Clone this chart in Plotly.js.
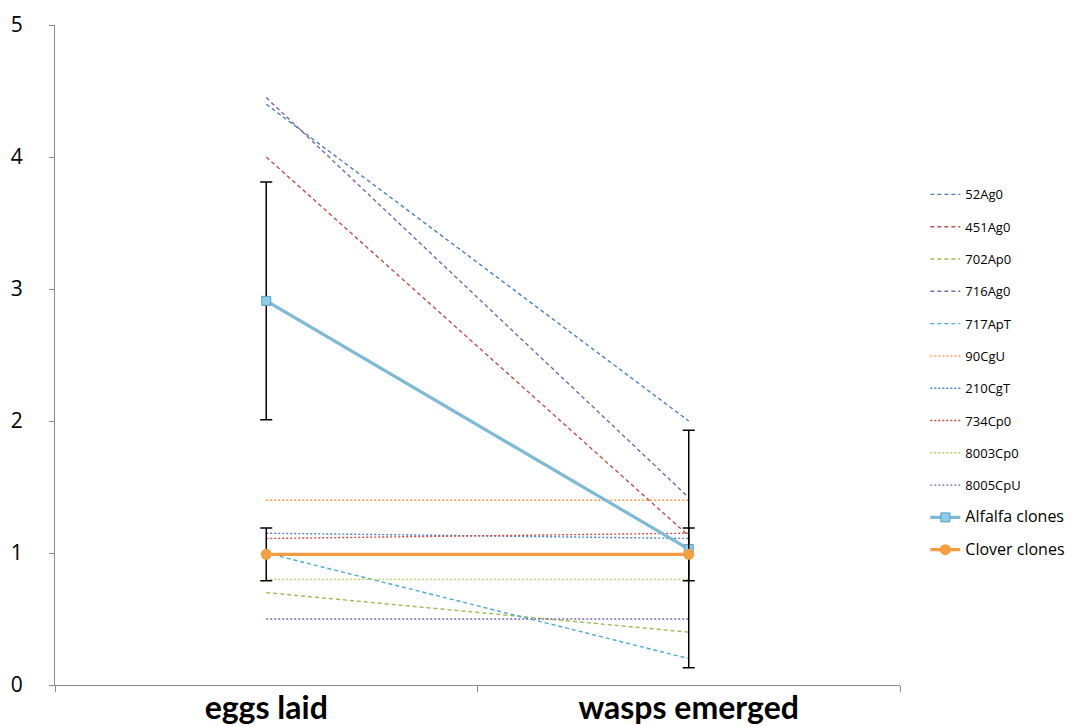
<!DOCTYPE html>
<html>
<head>
<meta charset="utf-8">
<script src="https://cdn.plot.ly/plotly-3.0.1.min.js"></script>
<style>html,body{margin:0;padding:0;background:#fff;}#chart{width:1082px;height:726px;}</style>
</head>
<body>
<div id="chart"></div>
<script>
// categories
const categories = ['eggs laid', 'wasps emerged'];

// individual clone series (values at eggs laid, wasps emerged)
const s52Ag0   = [4.40, 2.00];
const s451Ag0  = [4.00, 1.13];
const s702Ap0  = [0.70, 0.40];
const s716Ag0  = [4.45, 1.42];
const s717ApT  = [1.00, 0.20];
const s90CgU   = [1.40, 1.40];
const s210CgT  = [1.15, 1.11];
const s734Cp0  = [1.11, 1.15];
const s8003Cp0 = [0.80, 0.80];
const s8005CpU = [0.50, 0.50];

// group means and errors
const alfalfaMean = [2.91, 1.03];
const alfalfaErr  = [0.90, 0.90];
const cloverMean  = [0.99, 0.99];
const cloverErr   = [0.20, 0.20];

const DASH = '4px,3px';
const DOT = '2px,2px';

function clone(name, y, color, dash, i) {
  return {
    x: categories, y: y, name: name, type: 'scatter', mode: 'lines',
    legendgroup: 'g' + i,
    line: {color: color, width: 1.4, dash: dash}
  };
}

const traces = [
  clone('52Ag0', s52Ag0, '#4F81BD', DASH, 1),
  clone('451Ag0', s451Ag0, '#C0504D', DASH, 2),
  clone('702Ap0', s702Ap0, '#9BBB59', DASH, 3),
  clone('716Ag0', s716Ag0, '#8064A2', DASH, 4),
  clone('717ApT', s717ApT, '#4BACC6', DASH, 5),
  clone('90CgU', s90CgU, '#F79646', DOT, 6),
  clone('210CgT', s210CgT, '#4F81BD', DOT, 7),
  clone('734Cp0', s734Cp0, '#C0504D', DOT, 8),
  clone('8003Cp0', s8003Cp0, '#B5CC6A', DOT, 9),
  clone('8005CpU', s8005CpU, '#8064A2', DOT, 10),
  {
    x: categories, y: alfalfaMean, name: '<span style="font-size:16px">Alfalfa clones</span>',
    type: 'scatter', mode: 'lines+markers', legendgroup: 'g11',
    line: {color: '#7EBAD6', width: 3.2},
    marker: {symbol: 'square', size: 9, color: '#8CCDEB', line: {color: '#5B9BC0', width: 1}},
    error_y: {type: 'data', array: alfalfaErr, visible: true, color: '#000', thickness: 1.5, width: 6}
  },
  {
    x: categories, y: cloverMean, name: '<span style="font-size:16px">Clover clones</span>',
    type: 'scatter', mode: 'lines+markers', legendgroup: 'g12',
    line: {color: '#F39A43', width: 3.2},
    marker: {symbol: 'circle', size: 11, color: '#F5A040', line: {color: '#E08A30', width: 0}},
    error_y: {type: 'data', array: cloverErr, visible: true, color: '#000', thickness: 1.5, width: 6}
  }
];

const layout = {
  width: 1082, height: 726,
  margin: {l: 55, r: 182, t: 25, b: 41},
  paper_bgcolor: '#fff', plot_bgcolor: '#fff',
  showlegend: true,
  font: {family: 'Lato, "Open Sans", sans-serif', color: '#000'},
  xaxis: {
    type: 'category', range: [-0.5, 1.5],
    showline: true, linecolor: '#8c8c8c', linewidth: 1,
    ticks: 'outside', tickson: 'boundaries', ticklen: 6, tickcolor: '#8c8c8c',
    showgrid: false, zeroline: false,
    ticklabelstandoff: -5,
    tickfont: {size: 32, family: 'Lato, sans-serif', weight: 'bold', color: '#000'}
  },
  yaxis: {
    range: [0, 5], dtick: 1, tick0: 0,
    showline: true, linecolor: '#8c8c8c', linewidth: 1,
    ticks: 'outside', ticklen: 5, tickcolor: '#8c8c8c',
    showgrid: false, zeroline: false,
    ticklabelstandoff: 22,
    tickfont: {size: 21, family: '"Open Sans", sans-serif', color: '#000'}
  },
  legend: {
    x: 1.03, xanchor: 'left', y: 0.766, yanchor: 'top',
    bgcolor: 'rgba(0,0,0,0)', borderwidth: 0,
    tracegroupgap: 12.4,
    font: {size: 13, family: '"Open Sans", sans-serif', color: '#000'}
  }
};

Plotly.newPlot('chart', traces, layout, {displayModeBar: false, staticPlot: true});
</script>
</body>
</html>
